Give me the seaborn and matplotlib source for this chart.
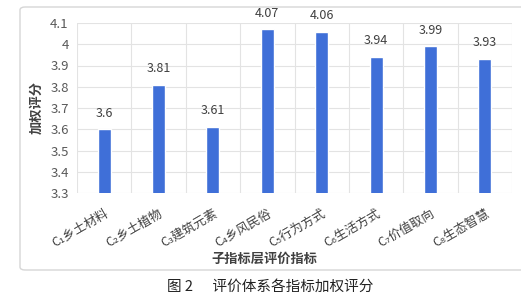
import matplotlib
matplotlib.use("Agg")
import matplotlib.pyplot as plt
import seaborn as sns
import pandas as pd
from matplotlib.patches import FancyBboxPatch

categories = ["C₁乡土材料", "C₂乡土植物", "C₃建筑元素", "C₄乡风民俗",
              "C₅行为方式", "C₆生活方式", "C₇价值取向", "C₈生态智慧"]
scores = [3.60, 3.81, 3.61, 4.07, 4.06, 3.94, 3.99, 3.93]
score_labels = ["3.6", "3.81", "3.61", "4.07", "4.06", "3.94", "3.99", "3.93"]
yticks = [3.3, 3.4, 3.5, 3.6, 3.7, 3.8, 3.9, 4.0, 4.1]
ytick_labels = ["3.3", "3.4", "3.5", "3.6", "3.7", "3.8", "3.9", "4", "4.1"]

sns.set_theme(style="white")
plt.rcParams['font.family'] = ['Noto Sans CJK SC', 'DejaVu Sans']

df = pd.DataFrame({"cat": categories, "score": scores})

W, H = 521, 298
fig = plt.figure(figsize=(W / 100, H / 100), dpi=100)
ax = fig.add_axes([77 / W, 1 - 193 / H, (512 - 77) / W, (193 - 23) / H])

# frame around chart
frame = FancyBboxPatch((20 / W, 1 - 270 / H), (530 - 20) / W, (270 - 7) / H,
                       boxstyle="round,pad=0,rounding_size=0.01",
                       transform=fig.transFigure, facecolor="none",
                       edgecolor="#D6D6D6", linewidth=1.0, zorder=-5)
fig.patches.append(frame)
ax.set_facecolor("none")

sns.barplot(data=df, x="cat", y="score", color="#3F6FD8", width=0.24,
            saturation=1, ax=ax, zorder=3)

ax.set_ylim(3.3, 4.1)
ax.set_xlim(-0.5, len(categories) - 0.5)
ax.set_yticks(yticks)
ax.set_yticklabels(ytick_labels, fontsize=9.5, color="#595959")
ax.tick_params(axis="y", length=0, pad=6)
ax.tick_params(axis="x", length=0, pad=10)
ax.set_xticks(range(len(categories)))
ax.set_xticklabels(categories, rotation=30, ha="right", va="top",
                   rotation_mode="anchor", fontsize=9, color="#404040")
# gridlines
for y in yticks:
    ax.axhline(y, color="#E3E3E3", linewidth=0.8, zorder=1)
for b in range(len(categories) + 1):
    ax.axvline(b - 0.5, color="#E3E3E3", linewidth=0.8, zorder=1)
for s in ax.spines.values():
    s.set_visible(False)

for i, (v, t) in enumerate(zip(scores, score_labels)):
    ax.annotate(t, (i, v), xytext=(0, 7), textcoords="offset points",
                ha="center", va="bottom", fontsize=9, color="#404040")

ax.set_xlabel("")
ax.set_ylabel("")
fig.text(36 / W, 1 - 108 / H, "加权评分", rotation=90, ha="center", va="center",
         fontsize=9.5, fontweight="bold", color="#404040")
fig.text(264 / W, 1 - 259 / H, "子指标层评价指标", ha="center", va="center",
         fontsize=9.5, fontweight="bold", color="#404040")
fig.text(270 / W, 1 - 287 / H, "图 2      评价体系各指标加权评分", ha="center",
         va="center", fontsize=10.5, color="#222222")

fig.savefig("out.png", dpi=100)
